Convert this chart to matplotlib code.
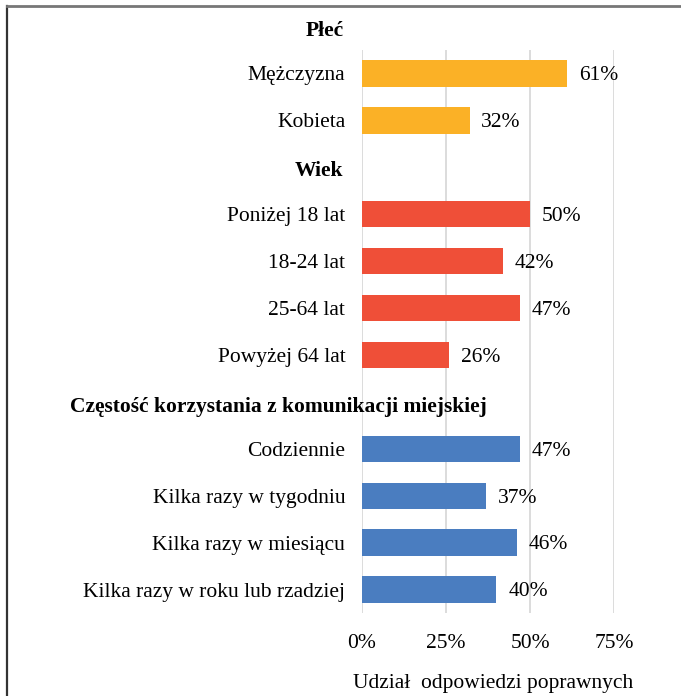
import matplotlib.pyplot as plt
from matplotlib.lines import Line2D

plt.rcParams["font.family"] = ["Liberation Serif", "DejaVu Serif"]

# rows from top to bottom, None marks a group header row
labels = ["Mężczyzna", "Kobieta", None,
          "Poniżej 18 lat", "18-24 lat", "25-64 lat", "Powyżej 64 lat", None,
          "Codziennie", "Kilka razy w tygodniu", "Kilka razy w miesiącu",
          "Kilka razy w roku lub rzadziej"]
values = [61, 32, None, 50, 42, 47, 26, None, 47, 37, 46, 40]
groups = ["plec", "plec", None, "wiek", "wiek", "wiek", "wiek", None,
          "freq", "freq", "freq", "freq"]
headers = ["Płeć", "Wiek", "Częstość korzystania z komunikacji miejskiej"]
header_rows = [-1, 2, 7]
xticks = [0, 25, 50, 75]

colors = {"plec": "#FBB126", "wiek": "#EF4F38", "freq": "#4A7DC0"}
fs = 15.5

fig = plt.figure(figsize=(6.81, 6.96), dpi=100)
ax = fig.add_axes([362 / 681, 1 - 613 / 696, 252 / 681, 563 / 696])

ypos = list(range(len(labels)))
for y, v, g in zip(ypos, values, groups):
    if v is None:
        continue
    ax.barh(y, v, height=0.56, color=colors[g], zorder=3)
    ax.text(v + 3.5, y + 0.05, f"{v}%", va="center", ha="left", fontsize=fs,
            clip_on=False)

ax.set_ylim(len(labels) - 0.5, -0.5)
ax.set_xlim(0, 75)
ax.set_yticks([y for y, l in zip(ypos, labels) if l is not None])
ax.set_yticklabels([l for l in labels if l is not None], fontsize=fs)
ax.set_xticks(xticks)
ax.set_xticklabels([f"{t}%" for t in xticks], fontsize=fs)
ax.tick_params(axis="y", length=0, pad=12)
ax.tick_params(axis="x", length=0, pad=15)
ax.set_xlabel("Udział  odpowiedzi poprawnych", fontsize=fs)
ax.xaxis.set_label_coords(0.52, -0.108)

ax.grid(axis="x", color="#D9D9D9", linewidth=1.3, zorder=0)
ax.set_axisbelow(True)
for s in ax.spines.values():
    s.set_visible(False)

# group headers
ax.text(-5.5, header_rows[0] + 0.1, headers[0], ha="right", va="center",
        fontsize=fs, fontweight="bold", clip_on=False)
ax.text(-5.5, header_rows[1] + 0.08, headers[1], ha="right", va="center",
        fontsize=fs, fontweight="bold", clip_on=False)
fig.text(70 / 681, 1 - 407 / 696, headers[2], ha="left", va="center",
         fontsize=fs, fontweight="bold")

# outer frame (left and top edges)
fig.add_artist(Line2D([7 / 681, 7 / 681], [0, 1 - 6 / 696],
                      transform=fig.transFigure, color="#333333", lw=1.6))
fig.add_artist(Line2D([7 / 681, 1], [1 - 6 / 696, 1 - 6 / 696],
                      transform=fig.transFigure, color="#777777", lw=2))

fig.savefig("out.png", dpi=100)
